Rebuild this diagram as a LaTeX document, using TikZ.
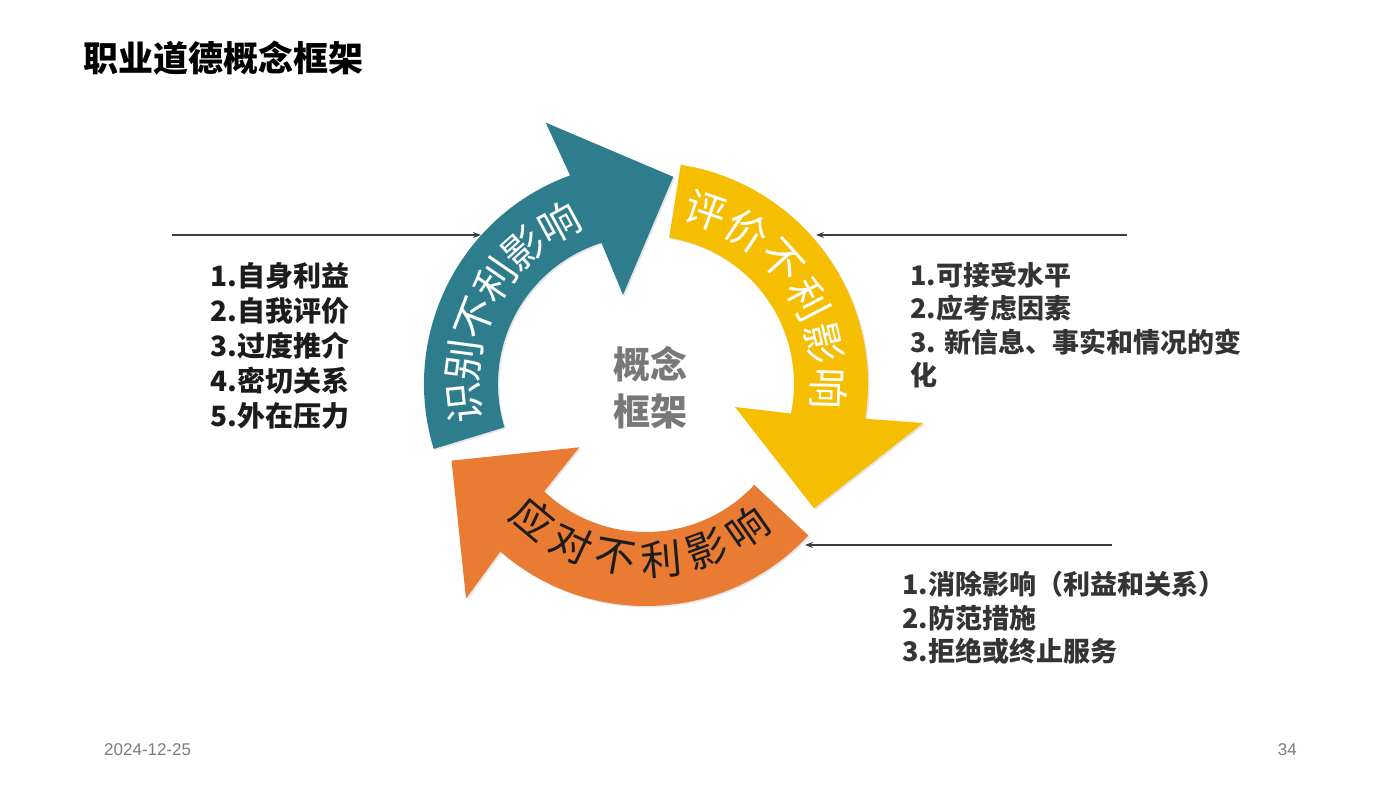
\documentclass[tikz,border=0pt]{standalone}
\usepackage{fontspec}
\usepackage{xcolor}
\usepackage{tikz}
\usetikzlibrary{arrows.meta, shadows}
\newfontfamily\cjk{Noto Sans CJK SC}
\newfontfamily\footfont{Liberation Sans}
\definecolor{ringteal}{RGB}{46, 125, 140}
\definecolor{ringyellow}{RGB}{246, 190, 0}
\definecolor{ringorange}{RGB}{234, 123, 50}
\definecolor{hubgray}{RGB}{120, 120, 120}
\definecolor{listdark}{RGB}{28, 28, 28}
\definecolor{listgray}{RGB}{52, 52, 52}
\definecolor{linegray}{RGB}{60, 60, 60}
\definecolor{footgray}{RGB}{125, 125, 125}

\begin{document}
\begin{tikzpicture}[
    x=1pt, y=1pt,
    every node/.style={inner sep=0pt, font=\cjk},
    ringtext/.style={font=\cjk\fontsize{41}{41}\selectfont},
    listtext/.style={align=left, anchor=west, text=listgray, font=\cjk\bfseries\fontsize{27}{33.5}\selectfont},
    pointer/.style={-{Stealth[length=8pt, width=6pt]}, line width=1.3pt, draw=linegray}
]
\useasboundingbox (0,0) rectangle (1400,785);
\fill[white] (0,0) rectangle (1400,785);

% Title
\node[anchor=west, font=\cjk\bfseries\fontsize{35}{35}\selectfont] (title) at (83,727) {职业道德概念框架};

% The cycle
\begin{scope}[shift={(646,401)}]
\foreach \col/\s/\e in {ringteal/197/109, ringyellow/81/-10, ringorange/317/228}
  \fill[\col, drop shadow={opacity=0.2, shadow xshift=1.5pt, shadow yshift=-1.5pt}]
    (\s:222) arc[start angle=\s, end angle=\e+1, radius=222]
    -- ({\e+2}:280) -- ({\e-26.5}:209) -- ({\e-4.5}:92) -- ({\e-1.5}:148)
    arc[start angle=\e-1.5, end angle=\s, radius=148] -- cycle;

\foreach \ch [count=\i from 0] in {识,别,不,利,影,响}
  \node[ringtext, text=white, rotate=96-13.5*\i] (spot\i) at ({186-13.5*\i}:183) {\ch};
\foreach \ch [count=\i from 0] in {评,价,不,利,影,响}
  \node[ringtext, text=white, rotate=-19-14.5*\i] (weigh\i) at ({71-14.5*\i}:183) {\ch};
\foreach \ch [count=\i from 0] in {应,对,不,利,影,响}
  \node[ringtext, text=listdark, rotate=320+15*\i] (act\i) at ({230+15*\i}:176) {\ch};

\node[align=center, text=hubgray, font=\cjk\bfseries\fontsize{37}{47}\selectfont] (hub) at (4,-4) {概念\\框架};
\end{scope}

% Pointers into the cycle
\coordinate (spotIn) at (172,550);
\coordinate (spotEnd) at (481,550);
\coordinate (weighIn) at (1127,550);
\coordinate (weighEnd) at (816,550);
\coordinate (actIn) at (1112,240);
\coordinate (actEnd) at (805,240);
\draw[pointer] (spotIn) -- (spotEnd);
\draw[pointer] (weighIn) -- (weighEnd);
\draw[pointer] (actIn) -- (actEnd);

% Lists
\node[listtext, text=listdark, font=\cjk\bfseries\fontsize{28}{35}\selectfont] (causes) at (210,439)
  {1.自身利益\\2.自我评价\\3.过度推介\\4.密切关系\\5.外在压力};
\node[listtext] (criteria) at (910,460)
  {1.可接受水平\\2.应考虑因素\\3. 新信息、事实和情况的变\\化};
\node[listtext] (actions) at (902,167)
  {1.消除影响（利益和关系）\\2.防范措施\\3.拒绝或终止服务};

% Footer
\node[anchor=west, text=footgray, font=\footfont\fontsize{17}{17}\selectfont] (date) at (104,35) {2024-12-25};
\node[anchor=east, text=footgray, font=\footfont\fontsize{17}{17}\selectfont] (page) at (1297,35) {34};

\end{tikzpicture}
\end{document}
